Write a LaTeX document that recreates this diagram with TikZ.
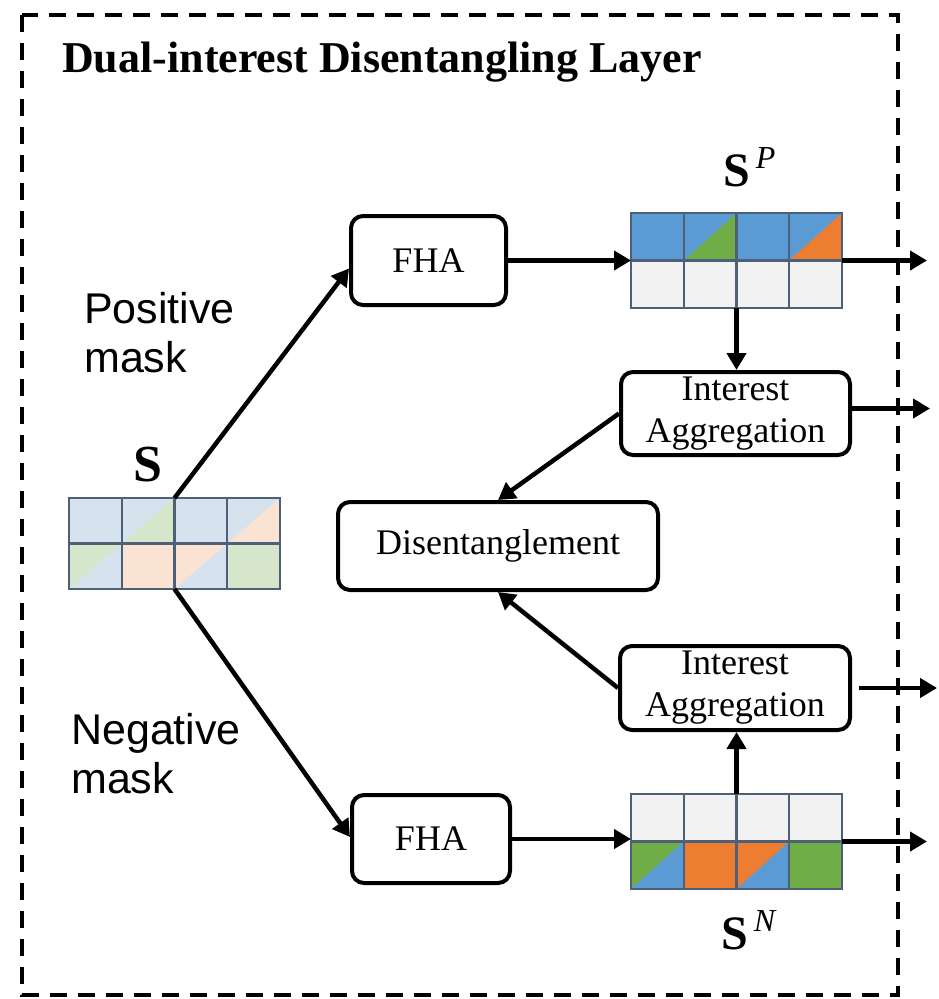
\documentclass[tikz,border=0pt]{standalone}
\usepackage{fontspec}
\setmainfont{Liberation Serif}
\newfontfamily\labelsans{Liberation Sans}
\usetikzlibrary{arrows.meta}

% palette
\definecolor{paleblue}{HTML}{D7E2EF}
\definecolor{palegreen}{HTML}{D6E6CB}
\definecolor{palepeach}{HTML}{FBE3D3}
\definecolor{fullblue}{HTML}{5B9BD5}
\definecolor{fullgreen}{HTML}{70AD47}
\definecolor{fullorange}{HTML}{ED7D31}
\definecolor{emptycell}{HTML}{F2F2F2}
\definecolor{gridcol}{HTML}{4E6077}

% cell size of the 4x2 score grids
\def\gw{52.75}
\def\gh{47.5}

% one cell split along its rising diagonal:
% #1 column, #2 row, #3 upper-left colour, #4 lower-right colour
\newcommand\splitcell[4]{%
  \fill[#3] ({#1*\gw},{#2*\gh}) rectangle ++(\gw,\gh);
  \fill[#4] ({(#1+1)*\gw},{#2*\gh}) -- ++(0,\gh) -- ++(-\gw,0) -- cycle;}

% grid lines over the cells
\newcommand\gridlines{%
  \draw[gridline] (0,0) rectangle ({4*\gw},{2*\gh});
  \foreach \k in {1,2,3} \draw[gridline] ({\k*\gw},0) -- ++(0,{2*\gh});
  \draw[gridline] (0,\gh) -- ++({4*\gw},0);}

\tikzset{
  gridline/.style={draw=gridcol, line width=2.3pt},
  scoregrid/.style={minimum width=211pt, inner sep=0pt, outer sep=0pt},
  procbox/.style={draw, line width=4pt, rounded corners=12pt, fill=white,
    inner sep=0pt, align=center, font=\fontsize{36}{42}\selectfont},
  conn/.style={line width=4.5pt, -{Triangle[length=17pt,width=19pt]}},
  frame/.style={line width=3.5pt, dash pattern=on 17pt off 11pt},
  masklabel/.style={anchor=north west, align=left, inner sep=0pt,
    font=\labelsans\fontsize{43}{49}\selectfont},
}

\begin{document}
\begin{tikzpicture}[x=1pt, y=-1pt]
\useasboundingbox (0,0) rectangle (938,999);

% outer dashed frame and title
\draw[frame] (22,15) rectangle (898,995);
\node[anchor=base west, inner sep=0pt] (title) at (62,72)
  {\fontsize{44}{50}\selectfont\bfseries Dual-interest Disentangling Layer};

% score grids
\node[scoregrid, minimum height=91pt] (s) at (174.5,543.5) {};
\node[scoregrid, minimum height=95pt] (sp) at (736.5,260.5) {};
\node[scoregrid, minimum height=95pt] (sn) at (736.5,841.5) {};

\begin{scope}[shift={(s.north west)}]
  \def\gh{45.5}
  \splitcell{0}{0}{paleblue}{paleblue}
  \splitcell{1}{0}{paleblue}{palegreen}
  \splitcell{2}{0}{paleblue}{paleblue}
  \splitcell{3}{0}{paleblue}{palepeach}
  \splitcell{0}{1}{palegreen}{paleblue}
  \splitcell{1}{1}{palepeach}{palepeach}
  \splitcell{2}{1}{palepeach}{paleblue}
  \splitcell{3}{1}{palegreen}{palegreen}
  \gridlines
\end{scope}

\begin{scope}[shift={(sp.north west)}]
  \splitcell{0}{0}{fullblue}{fullblue}
  \splitcell{1}{0}{fullblue}{fullgreen}
  \splitcell{2}{0}{fullblue}{fullblue}
  \splitcell{3}{0}{fullblue}{fullorange}
  \foreach \c in {0,1,2,3} {\splitcell{\c}{1}{emptycell}{emptycell}}
  \gridlines
\end{scope}

\begin{scope}[shift={(sn.north west)}]
  \foreach \c in {0,1,2,3} {\splitcell{\c}{0}{emptycell}{emptycell}}
  \splitcell{0}{1}{fullgreen}{fullblue}
  \splitcell{1}{1}{fullorange}{fullorange}
  \splitcell{2}{1}{fullorange}{fullblue}
  \splitcell{3}{1}{fullgreen}{fullgreen}
  \gridlines
\end{scope}

% grid labels
\node[anchor=base, inner sep=0pt] (slab) at (148,481)
  {\fontsize{52}{56}\selectfont\bfseries S};
\node[anchor=base west, inner sep=0pt] (splab) at (723,186)
  {{\fontsize{48}{50}\selectfont\bfseries S}\hspace{6pt}\raisebox{18pt}{\fontsize{32}{32}\selectfont\itshape P}};
\node[anchor=base west, inner sep=0pt] (snlab) at (721,949)
  {{\fontsize{48}{50}\selectfont\bfseries S}\hspace{6pt}\raisebox{18pt}{\fontsize{32}{32}\selectfont\itshape N}};

% mask labels
\node[masklabel] (pos) at (84,292) {Positive\\mask};
\node[masklabel] (neg) at (71,713) {Negative\\mask};

% processing blocks
\node[procbox, minimum width=155pt, minimum height=89pt] (fha1) at (428.5,260.5) {FHA};
\node[procbox, minimum width=158pt, minimum height=88pt] (fha2) at (431,839) {FHA};
\node[procbox, minimum width=229pt, minimum height=83pt] (ia1) at (735.5,413.5) {Interest\\Aggregation};
\node[procbox, minimum width=230pt, minimum height=84pt] (ia2) at (735,688) {Interest\\Aggregation};
\node[procbox, minimum width=320pt, minimum height=88pt] (dis) at (498,546) {Disentanglement};

% free ends of the outputs
\coordinate (outa) at (927,0);
\coordinate (outb) at (930,0);
\coordinate (outc) at (937,0);

% connectors
\draw[conn] (s.north) -- ([yshift=-8pt]fha1.west);
\draw[conn] (s.south) -- ([yshift=2pt]fha2.west);
\draw[conn] (fha1.east) -- (fha1.east -| sp.west);
\draw[conn] (fha2.east) -- (fha2.east -| sn.west);
\draw[conn] (sp.east) -- (sp.east -| outa);
\draw[conn] (sn.east) -- (sn.east -| outa);
\draw[conn] (sp.south) -- (sp.south |- ia1.north);
\draw[conn] (sn.north) -- (sn.north |- ia2.south);
\draw[conn] ([yshift=5pt]ia1.east) -- ([yshift=5pt]ia1.east -| outb);
\draw[conn, shorten <=7pt] (ia2.east) -- (ia2.east -| outc);
\draw[conn] (ia1.west) -- (dis.north);
\draw[conn] (ia2.west) -- (dis.south);
\end{tikzpicture}
\end{document}
